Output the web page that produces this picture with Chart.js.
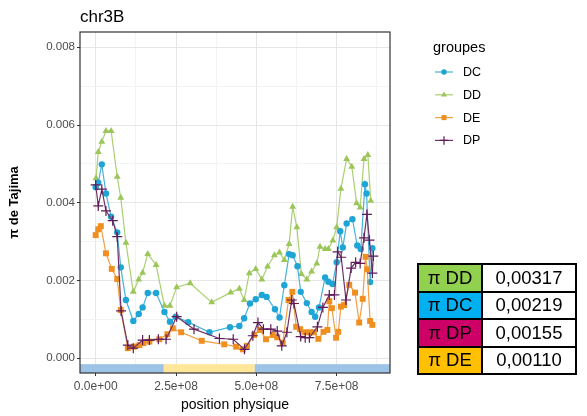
<!DOCTYPE html>
<html>
<head>
<meta charset="utf-8">
<script src="https://cdn.jsdelivr.net/npm/chart.js@4/dist/chart.umd.min.js"></script>
<style>
  html, body { margin: 0; padding: 0; background: #fff; }
  #wrap { position: relative; width: 587px; height: 416px; }
  canvas { position: absolute; left: 0; top: 0; }
  #tbl { position: absolute; left: 417px; top: 263px; border-collapse: collapse; font-family: "Liberation Sans", Arial, sans-serif; font-size: 18.5px; color: #000; }
  #tbl td { border: 2px solid #000; height: 25.5px; padding: 0; text-align: center; line-height: 24px; }
  #tbl td.lab { width: 62px; }
  #tbl td.val { width: 92px; background: #fff; }
</style>
</head>
<body>
<div id="wrap">
  <canvas id="c" width="587" height="416"></canvas>
  <table id="tbl"></table>
</div>
<script>
// ---------- data ----------
const chartTitle = 'chr3B';
const groups = ['DC', 'DD', 'DE', 'DP'];

// positions in Mb (converted to bp for the scale)
const posDC = [0,8,19,32,48,67,78,94,117,134,146,162,188,214,231,249,288,354,418,447,462,480,498,517,532,558,572,587,602,613,628,638,657,672,683,695,714,724,737,750,761,769,781,799,814,825,838,843,854,861];
const piDC  = [0.00440,0.00452,0.00499,0.00424,0.00364,0.00324,0.00234,0.00150,0.00096,0.00114,0.00131,0.00168,0.00168,0.00119,0.00094,0.00107,0.00093,0.00067,0.00080,0.00083,0.00103,0.00141,0.00152,0.00163,0.00158,0.00126,0.00105,0.00188,0.00268,0.00265,0.00237,0.00171,0.00142,0.00119,0.00107,0.00131,0.00208,0.00197,0.00191,0.00247,0.00327,0.00285,0.00347,0.00358,0.00290,0.00281,0.00448,0.00424,0.00196,0.00283];

const posDD = [1,8,19,32,48,67,78,94,117,134,146,162,188,214,231,252,294,361,420,447,462,478,498,517,535,556,572,587,602,613,626,640,657,672,688,698,714,724,738,750,763,781,797,812,823,835,847,856];
const piDD  = [0.00463,0.00531,0.00557,0.00585,0.00585,0.00467,0.00413,0.00297,0.00171,0.00203,0.00220,0.00268,0.00240,0.00135,0.00135,0.00183,0.00193,0.00144,0.00169,0.00179,0.00150,0.00219,0.00230,0.00203,0.00236,0.00265,0.00272,0.00253,0.00294,0.00390,0.00337,0.00217,0.00203,0.00223,0.00244,0.00287,0.00281,0.00281,0.00303,0.00337,0.00436,0.00513,0.00493,0.00399,0.00388,0.00513,0.00523,0.00405];

const posDE = [0,8,16,32,50,67,78,100,119,136,148,167,198,223,240,266,330,400,437,458,471,493,511,530,551,565,582,600,612,624,636,652,667,679,693,709,721,727,735,748,755,763,773,789,807,820,831,840,845,854,861];
const piDE  = [0.00317,0.00332,0.00340,0.00270,0.00230,0.00204,0.00124,0.00026,0.00030,0.00034,0.00039,0.00043,0.00049,0.00062,0.00077,0.00067,0.00045,0.00036,0.00030,0.00023,0.00032,0.00060,0.00073,0.00049,0.00060,0.00054,0.00040,0.00150,0.00171,0.00081,0.00075,0.00067,0.00067,0.00067,0.00050,0.00068,0.00073,0.00147,0.00129,0.00053,0.00068,0.00133,0.00137,0.00189,0.00169,0.00092,0.00153,0.00261,0.00229,0.00096,0.00086];

const posDP = [0,8,19,32,53,67,79,100,117,146,167,195,219,252,306,385,428,463,489,505,522,545,565,579,595,610,617,638,652,665,690,707,727,743,753,764,779,795,809,823,835,844,852,861,864];
const piDP  = [0.00446,0.00392,0.00435,0.00379,0.00354,0.00313,0.00122,0.00034,0.00026,0.00047,0.00047,0.00049,0.00049,0.00107,0.00075,0.00051,0.00049,0.00023,0.00058,0.00092,0.00075,0.00075,0.00070,0.00032,0.00067,0.00150,0.00141,0.00056,0.00053,0.00053,0.00081,0.00131,0.00163,0.00163,0.00274,0.00260,0.00150,0.00232,0.00247,0.00244,0.00310,0.00370,0.00304,0.00219,0.00263];

// chromosome region band (bp) : start / end
const bandStart = [-1e9, 2.12e8, 4.95e8];
const bandEnd   = [2.12e8, 4.95e8, 2e9];

// axis ticks
const xTickValues = [0, 2.5e8, 5e8, 7.5e8];
const xTickLabels = ['0.0e+00', '2.5e+08', '5.0e+08', '7.5e+08'];
const xMinorValues = [1.25e8, 3.75e8, 6.25e8, 8.75e8];
const yTickValues = [0, 0.002, 0.004, 0.006, 0.008];
const yTickLabels = ['0.000', '0.002', '0.004', '0.006', '0.008'];
const yMinorValues = [0.001, 0.003, 0.005, 0.007];

// table
const tableLabels = ['π DD', 'π DC', 'π DP', 'π DE'];
const tableValues = ['0,00317', '0,00219', '0,00155', '0,00110'];

// ---------- styles ----------
const colors = { DC: '#1ea5d6', DD: '#9cc65a', DE: '#ef8f1f', DP: '#5f1a59' };
const lineColors = { DC: '#45b3dc', DD: '#aacf72', DE: '#f19f45', DP: '#6e3468' };
const shapes = { DC: 'circle', DD: 'triangle', DE: 'rect', DP: 'cross' };
const radii  = { DC: 3.2, DD: 4, DE: 4.2, DP: 5 };
const bandColors = ['#9dc3e6', '#ffe699', '#9dc3e6'];
const tableColors = ['#92d050', '#00b0f0', '#cc0066', '#ffc000'];

const series = { DC: [posDC, piDC], DD: [posDD, piDD], DE: [posDE, piDE], DP: [posDP, piDP] };

// table
const tbl = document.getElementById('tbl');
tableLabels.forEach((l, i) => {
  const tr = document.createElement('tr');
  const a = document.createElement('td'); a.className = 'lab'; a.textContent = l; a.style.background = tableColors[i];
  const b = document.createElement('td'); b.className = 'val'; b.textContent = tableValues[i];
  tr.appendChild(a); tr.appendChild(b); tbl.appendChild(tr);
});

function drawMarker(ctx, shape, x, y, r, color) {
  ctx.save();
  ctx.fillStyle = color; ctx.strokeStyle = color; ctx.lineWidth = 1.2;
  ctx.beginPath();
  if (shape === 'circle') { ctx.arc(x, y, r, 0, Math.PI * 2); ctx.fill(); }
  else if (shape === 'triangle') {
    ctx.moveTo(x, y - r); ctx.lineTo(x + r * 0.87, y + r * 0.5); ctx.lineTo(x - r * 0.87, y + r * 0.5); ctx.closePath(); ctx.fill();
  } else if (shape === 'rect') { const s = r * Math.SQRT1_2; ctx.rect(x - s, y - s, 2 * s, 2 * s); ctx.fill(); }
  else if (shape === 'cross') { ctx.moveTo(x - r, y); ctx.lineTo(x + r, y); ctx.moveTo(x, y - r); ctx.lineTo(x, y + r); ctx.stroke(); }
  ctx.restore();
}

const decor = {
  id: 'decor',
  beforeDatasetsDraw(chart) {
    const { ctx, chartArea: a, scales: { x, y } } = chart;
    const top = y.getPixelForValue(-0.00015), bot = a.bottom;
    ctx.save();
    ctx.beginPath(); ctx.rect(a.left, a.top, a.right - a.left, a.bottom - a.top); ctx.clip();
    bandStart.forEach((s, i) => {
      const x0 = Math.max(a.left, x.getPixelForValue(s));
      const x1 = Math.min(a.right, x.getPixelForValue(bandEnd[i]));
      ctx.fillStyle = bandColors[i];
      ctx.fillRect(x0, top, x1 - x0, bot - top);
    });
    ctx.restore();
  },
  afterDraw(chart) {
    const { ctx, chartArea: a } = chart;
    ctx.save();
    ctx.strokeStyle = '#333333'; ctx.lineWidth = 1.2;
    ctx.strokeRect(a.left, a.top, a.right - a.left, a.bottom - a.top);
    // title
    ctx.fillStyle = '#000'; ctx.font = '17px "Liberation Sans", Arial, sans-serif';
    ctx.textBaseline = 'alphabetic'; ctx.textAlign = 'left';
    ctx.fillText(chartTitle, 80, 22);
    // legend
    ctx.font = '14.5px "Liberation Sans", Arial, sans-serif';
    ctx.textBaseline = 'middle';
    ctx.fillText('groupes', 433, 48);
    ctx.font = '12.5px "Liberation Sans", Arial, sans-serif';
    groups.forEach((g, i) => {
      const yy = 72 + i * 22.8;
      ctx.strokeStyle = lineColors[g]; ctx.lineWidth = 1.2;
      ctx.beginPath(); ctx.moveTo(435, yy); ctx.lineTo(453, yy); ctx.stroke();
      drawMarker(ctx, shapes[g], 444, yy, radii[g] * 0.85, colors[g]);
      ctx.fillStyle = '#000';
      ctx.fillText(g, 463, yy + 0.5);
    });
    ctx.restore();
  }
};

const datasets = ['DP', 'DE', 'DC', 'DD'].map(g => ({
  label: g,
  data: series[g][0].map((p, i) => ({ x: p * 1e6, y: series[g][1][i] })),
  borderColor: lineColors[g],
  backgroundColor: colors[g],
  borderWidth: 1.2,
  pointStyle: shapes[g],
  pointRadius: radii[g],
  pointBorderWidth: g === 'DP' ? 1.2 : 0,
  pointBorderColor: colors[g],
  tension: 0,
  fill: false
}));

const isMajor = (vals, v) => vals.some(t => Math.abs(t - v) < 1e-9 * Math.max(1, Math.abs(t)));

new Chart(document.getElementById('c'), {
  type: 'line',
  data: { datasets },
  plugins: [decor],
  options: {
    responsive: false,
    animation: false,
    devicePixelRatio: 1,
    layout: { padding: { left: 0, top: 32, right: 197, bottom: 0 } },
    plugins: { legend: { display: false }, tooltip: { enabled: false }, title: { display: false } },
    scales: {
      x: {
        type: 'linear',
        min: -4.886e7, max: 9.159e8,
        afterFit(s) { s.height = 43; },
        afterBuildTicks(s) { s.ticks = xTickValues.concat(xMinorValues).sort((a, b) => a - b).map(v => ({ value: v })); },
        border: { display: false },
        grid: {
          color: c => isMajor(xTickValues, c.tick.value) ? '#e6e6e6' : '#f3f3f3',
          lineWidth: 1,
          tickLength: 3,
          tickColor: c => isMajor(xTickValues, c.tick.value) ? '#333333' : 'rgba(0,0,0,0)'
        },
        ticks: {
          autoSkip: false, maxRotation: 0, padding: 3,
          color: '#4d4d4d',
          font: { family: '"Liberation Sans", Arial, sans-serif', size: 12 },
          callback: v => { const i = xTickValues.findIndex(t => Math.abs(t - v) < 1); return i >= 0 ? xTickLabels[i] : ''; }
        },
        title: {
          display: true, text: 'position physique', color: '#000',
          font: { family: '"Liberation Sans", Arial, sans-serif', size: 14 },
          padding: { top: 0, bottom: 2 }
        }
      },
      y: {
        type: 'linear',
        min: -0.000378, max: 0.008394,
        afterFit(s) { s.width = 80; },
        afterBuildTicks(s) { s.ticks = yTickValues.concat(yMinorValues).sort((a, b) => a - b).map(v => ({ value: v })); },
        border: { display: false },
        grid: {
          color: c => isMajor(yTickValues, c.tick.value) ? '#e6e6e6' : '#f3f3f3',
          lineWidth: 1,
          tickLength: 3,
          tickColor: c => isMajor(yTickValues, c.tick.value) ? '#333333' : 'rgba(0,0,0,0)'
        },
        ticks: {
          autoSkip: false, padding: 2,
          color: '#4d4d4d',
          font: { family: '"Liberation Sans", Arial, sans-serif', size: 11.5 },
          callback: v => { const i = yTickValues.findIndex(t => Math.abs(t - v) < 1e-7); return i >= 0 ? yTickLabels[i] : ''; }
        },
        title: {
          display: true, text: 'π de Tajima', color: '#000',
          font: { family: '"Liberation Sans", Arial, sans-serif', size: 13, weight: 'bold' },
          padding: { top: 7, bottom: 0 }
        }
      }
    }
  }
});
</script>
</body>
</html>
